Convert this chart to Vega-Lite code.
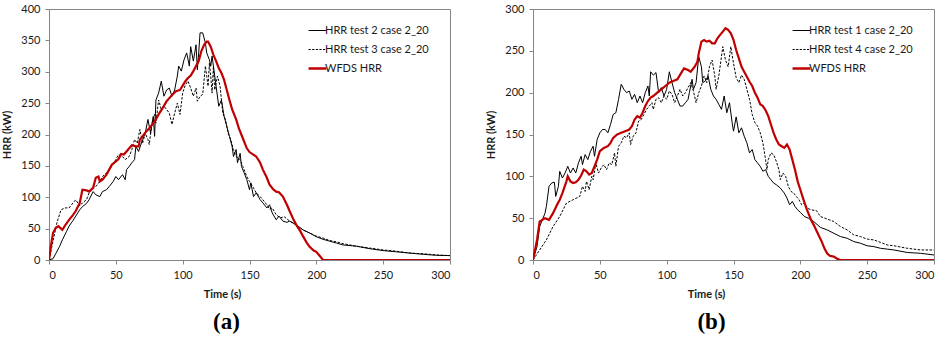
{
  "$schema": "https://vega.github.io/schema/vega-lite/v6.json",
  "background": "white",
  "padding": {"left": 1, "top": 2, "right": 0, "bottom": 0},
  "spacing": 34,
  "datasets": {
    "a_test2": [
      {"t":0,"v":0},{"t":3,"v":2},{"t":5,"v":10},{"t":8,"v":22},{"t":10,"v":32},{"t":13,"v":45},{"t":15,"v":54},{"t":18,"v":63},{"t":20,"v":70},{"t":23,"v":80},{"t":25,"v":85},{"t":28,"v":90},{"t":30,"v":96},{"t":33,"v":109},{"t":35,"v":104},{"t":38,"v":101},{"t":40,"v":109},{"t":43,"v":112},{"t":45,"v":117},{"t":48,"v":125},{"t":50,"v":133},{"t":52,"v":128},{"t":55,"v":136},{"t":57,"v":128},{"t":58,"v":144},{"t":60,"v":149},{"t":62,"v":155},{"t":64,"v":160},{"t":65,"v":181},{"t":67,"v":173},{"t":70,"v":192},{"t":72,"v":202},{"t":74,"v":224},{"t":76,"v":202},{"t":78,"v":229},{"t":79,"v":197},{"t":80,"v":255},{"t":82,"v":266},{"t":84,"v":285},{"t":86,"v":261},{"t":88,"v":271},{"t":90,"v":274},{"t":92,"v":261},{"t":94,"v":271},{"t":96,"v":293},{"t":97,"v":309},{"t":99,"v":301},{"t":101,"v":319},{"t":103,"v":330},{"t":105,"v":309},{"t":106,"v":340},{"t":108,"v":317},{"t":110,"v":343},{"t":111,"v":303},{"t":112,"v":330},{"t":113,"v":362},{"t":115,"v":362},{"t":117,"v":346},{"t":118,"v":330},{"t":120,"v":319},{"t":121,"v":309},{"t":122,"v":325},{"t":124,"v":293},{"t":125,"v":277},{"t":127,"v":245},{"t":129,"v":255},{"t":131,"v":229},{"t":133,"v":213},{"t":135,"v":197},{"t":137,"v":181},{"t":138,"v":165},{"t":140,"v":176},{"t":141,"v":155},{"t":143,"v":170},{"t":144,"v":149},{"t":146,"v":139},{"t":148,"v":128},{"t":150,"v":112},{"t":151,"v":123},{"t":153,"v":101},{"t":155,"v":107},{"t":158,"v":96},{"t":160,"v":91},{"t":163,"v":83},{"t":165,"v":88},{"t":167,"v":75},{"t":170,"v":64},{"t":172,"v":70},{"t":175,"v":62},{"t":178,"v":60},{"t":180,"v":62},{"t":185,"v":56},{"t":190,"v":48},{"t":195,"v":43},{"t":200,"v":37},{"t":205,"v":33},{"t":210,"v":30},{"t":215,"v":27},{"t":220,"v":24},{"t":230,"v":22},{"t":240,"v":18},{"t":250,"v":15},{"t":260,"v":13},{"t":270,"v":11},{"t":280,"v":9},{"t":290,"v":7.5},{"t":300,"v":7}
    ],
    "a_test3": [
      {"t":0,"v":0},{"t":3,"v":30},{"t":6,"v":60},{"t":9,"v":80},{"t":12,"v":83},{"t":15,"v":83},{"t":18,"v":91},{"t":20,"v":96},{"t":23,"v":86},{"t":25,"v":91},{"t":28,"v":96},{"t":30,"v":107},{"t":33,"v":115},{"t":35,"v":117},{"t":38,"v":125},{"t":40,"v":133},{"t":43,"v":139},{"t":45,"v":144},{"t":48,"v":152},{"t":50,"v":160},{"t":52,"v":168},{"t":55,"v":165},{"t":57,"v":160},{"t":60,"v":165},{"t":62,"v":176},{"t":64,"v":192},{"t":66,"v":186},{"t":68,"v":208},{"t":70,"v":186},{"t":72,"v":202},{"t":74,"v":192},{"t":75,"v":184},{"t":77,"v":218},{"t":79,"v":232},{"t":80,"v":218},{"t":82,"v":255},{"t":84,"v":240},{"t":86,"v":245},{"t":88,"v":240},{"t":90,"v":234},{"t":92,"v":216},{"t":94,"v":234},{"t":96,"v":250},{"t":98,"v":232},{"t":100,"v":266},{"t":102,"v":279},{"t":104,"v":285},{"t":106,"v":274},{"t":108,"v":261},{"t":110,"v":274},{"t":111,"v":253},{"t":113,"v":261},{"t":115,"v":264},{"t":117,"v":309},{"t":118,"v":293},{"t":119,"v":277},{"t":120,"v":314},{"t":121,"v":293},{"t":122,"v":266},{"t":123,"v":309},{"t":124,"v":271},{"t":126,"v":293},{"t":128,"v":277},{"t":130,"v":234},{"t":132,"v":224},{"t":134,"v":202},{"t":136,"v":192},{"t":138,"v":176},{"t":140,"v":165},{"t":143,"v":160},{"t":145,"v":149},{"t":148,"v":133},{"t":150,"v":125},{"t":153,"v":115},{"t":155,"v":107},{"t":158,"v":101},{"t":160,"v":96},{"t":163,"v":88},{"t":165,"v":81},{"t":167,"v":83},{"t":170,"v":72},{"t":173,"v":67},{"t":176,"v":69},{"t":180,"v":62},{"t":185,"v":56},{"t":190,"v":48},{"t":195,"v":43},{"t":200,"v":38},{"t":205,"v":35},{"t":210,"v":31},{"t":215,"v":29},{"t":220,"v":26},{"t":230,"v":22},{"t":240,"v":19},{"t":250,"v":16},{"t":260,"v":14},{"t":270,"v":11},{"t":280,"v":10},{"t":290,"v":8},{"t":300,"v":7}
    ],
    "a_wfds": [
      {"t":0,"v":0},{"t":2,"v":30},{"t":3,"v":43},{"t":5,"v":51},{"t":7,"v":54},{"t":10,"v":48},{"t":12,"v":55},{"t":15,"v":64},{"t":18,"v":72},{"t":20,"v":78},{"t":23,"v":91},{"t":25,"v":112},{"t":28,"v":111},{"t":30,"v":109},{"t":33,"v":115},{"t":35,"v":131},{"t":37,"v":133},{"t":38,"v":125},{"t":40,"v":128},{"t":43,"v":136},{"t":45,"v":144},{"t":47,"v":152},{"t":50,"v":157},{"t":52,"v":161},{"t":54,"v":169},{"t":56,"v":168},{"t":58,"v":173},{"t":60,"v":178},{"t":62,"v":183},{"t":65,"v":181},{"t":67,"v":181},{"t":68,"v":192},{"t":70,"v":197},{"t":72,"v":203},{"t":75,"v":210},{"t":78,"v":218},{"t":80,"v":224},{"t":82,"v":232},{"t":85,"v":242},{"t":88,"v":253},{"t":90,"v":258},{"t":93,"v":265},{"t":95,"v":269},{"t":98,"v":271},{"t":100,"v":278},{"t":102,"v":285},{"t":104,"v":290},{"t":106,"v":294},{"t":108,"v":301},{"t":110,"v":309},{"t":112,"v":317},{"t":114,"v":333},{"t":116,"v":343},{"t":118,"v":348},{"t":119,"v":348},{"t":121,"v":340},{"t":123,"v":327},{"t":125,"v":317},{"t":127,"v":306},{"t":129,"v":298},{"t":131,"v":287},{"t":133,"v":271},{"t":135,"v":255},{"t":137,"v":240},{"t":140,"v":224},{"t":142,"v":210},{"t":145,"v":194},{"t":148,"v":178},{"t":150,"v":172},{"t":152,"v":169},{"t":155,"v":165},{"t":158,"v":155},{"t":160,"v":144},{"t":163,"v":131},{"t":165,"v":120},{"t":168,"v":112},{"t":170,"v":109},{"t":172,"v":108},{"t":175,"v":101},{"t":178,"v":88},{"t":180,"v":78},{"t":183,"v":64},{"t":185,"v":56},{"t":188,"v":46},{"t":190,"v":38},{"t":193,"v":27},{"t":195,"v":21},{"t":198,"v":15},{"t":200,"v":13},{"t":202,"v":8},{"t":205,"v":0},{"t":300,"v":0}
    ],
    "b_test1": [
      {"t":0,"v":0},{"t":3,"v":16},{"t":5,"v":40},{"t":7,"v":48},{"t":9,"v":56},{"t":10,"v":64},{"t":12,"v":88},{"t":14,"v":92},{"t":16,"v":93},{"t":17,"v":76},{"t":19,"v":88},{"t":20,"v":106},{"t":22,"v":98},{"t":24,"v":104},{"t":26,"v":112},{"t":28,"v":104},{"t":30,"v":110},{"t":32,"v":104},{"t":34,"v":116},{"t":36,"v":124},{"t":37,"v":114},{"t":39,"v":126},{"t":41,"v":120},{"t":43,"v":130},{"t":45,"v":136},{"t":46,"v":124},{"t":48,"v":144},{"t":50,"v":152},{"t":52,"v":156},{"t":54,"v":156},{"t":56,"v":152},{"t":58,"v":162},{"t":60,"v":174},{"t":62,"v":176},{"t":64,"v":192},{"t":66,"v":210},{"t":68,"v":204},{"t":70,"v":200},{"t":72,"v":202},{"t":74,"v":192},{"t":76,"v":198},{"t":78,"v":188},{"t":80,"v":196},{"t":82,"v":188},{"t":84,"v":200},{"t":86,"v":208},{"t":87,"v":196},{"t":88,"v":225},{"t":90,"v":221},{"t":92,"v":224},{"t":94,"v":200},{"t":96,"v":206},{"t":98,"v":196},{"t":100,"v":204},{"t":102,"v":225},{"t":104,"v":212},{"t":106,"v":200},{"t":108,"v":192},{"t":110,"v":184},{"t":112,"v":184},{"t":114,"v":188},{"t":116,"v":192},{"t":117,"v":200},{"t":119,"v":216},{"t":120,"v":204},{"t":122,"v":212},{"t":124,"v":243},{"t":126,"v":231},{"t":127,"v":212},{"t":129,"v":214},{"t":131,"v":220},{"t":133,"v":204},{"t":135,"v":196},{"t":137,"v":192},{"t":139,"v":186},{"t":141,"v":180},{"t":143,"v":196},{"t":145,"v":176},{"t":147,"v":188},{"t":149,"v":164},{"t":150,"v":154},{"t":152,"v":171},{"t":154,"v":152},{"t":156,"v":158},{"t":158,"v":148},{"t":160,"v":140},{"t":162,"v":128},{"t":164,"v":132},{"t":166,"v":120},{"t":168,"v":116},{"t":170,"v":112},{"t":172,"v":106},{"t":174,"v":108},{"t":176,"v":100},{"t":178,"v":96},{"t":180,"v":92},{"t":182,"v":90},{"t":185,"v":86},{"t":188,"v":80},{"t":190,"v":74},{"t":192,"v":66},{"t":194,"v":70},{"t":196,"v":64},{"t":198,"v":60},{"t":200,"v":57},{"t":203,"v":52},{"t":206,"v":50},{"t":210,"v":46},{"t":215,"v":39},{"t":220,"v":36},{"t":225,"v":32},{"t":230,"v":28},{"t":235,"v":26},{"t":240,"v":22},{"t":245,"v":20},{"t":250,"v":17},{"t":255,"v":16},{"t":260,"v":14},{"t":265,"v":13},{"t":270,"v":12},{"t":280,"v":9},{"t":290,"v":8},{"t":300,"v":6}
    ],
    "b_test4": [
      {"t":0,"v":0},{"t":5,"v":12},{"t":10,"v":24},{"t":15,"v":40},{"t":20,"v":52},{"t":25,"v":68},{"t":30,"v":72},{"t":35,"v":76},{"t":37,"v":88},{"t":39,"v":82},{"t":40,"v":94},{"t":42,"v":84},{"t":44,"v":100},{"t":45,"v":96},{"t":47,"v":116},{"t":49,"v":104},{"t":51,"v":110},{"t":53,"v":114},{"t":55,"v":108},{"t":57,"v":116},{"t":59,"v":114},{"t":61,"v":128},{"t":62,"v":112},{"t":64,"v":136},{"t":66,"v":140},{"t":68,"v":148},{"t":70,"v":146},{"t":72,"v":152},{"t":73,"v":138},{"t":75,"v":148},{"t":77,"v":152},{"t":79,"v":166},{"t":81,"v":168},{"t":83,"v":174},{"t":85,"v":180},{"t":87,"v":184},{"t":89,"v":188},{"t":90,"v":180},{"t":92,"v":192},{"t":94,"v":194},{"t":96,"v":188},{"t":98,"v":196},{"t":100,"v":192},{"t":102,"v":202},{"t":104,"v":198},{"t":106,"v":188},{"t":108,"v":196},{"t":110,"v":204},{"t":112,"v":196},{"t":114,"v":200},{"t":116,"v":206},{"t":118,"v":212},{"t":120,"v":202},{"t":122,"v":188},{"t":124,"v":200},{"t":126,"v":208},{"t":128,"v":220},{"t":130,"v":212},{"t":132,"v":231},{"t":134,"v":239},{"t":136,"v":220},{"t":137,"v":204},{"t":139,"v":220},{"t":141,"v":243},{"t":142,"v":255},{"t":144,"v":239},{"t":146,"v":231},{"t":148,"v":255},{"t":150,"v":235},{"t":152,"v":218},{"t":154,"v":212},{"t":156,"v":221},{"t":158,"v":216},{"t":160,"v":204},{"t":162,"v":192},{"t":164,"v":174},{"t":166,"v":164},{"t":168,"v":160},{"t":170,"v":152},{"t":172,"v":140},{"t":174,"v":120},{"t":175,"v":108},{"t":176,"v":120},{"t":178,"v":128},{"t":180,"v":126},{"t":182,"v":118},{"t":184,"v":108},{"t":185,"v":96},{"t":187,"v":104},{"t":189,"v":100},{"t":191,"v":88},{"t":193,"v":82},{"t":195,"v":80},{"t":197,"v":76},{"t":199,"v":72},{"t":201,"v":66},{"t":203,"v":68},{"t":205,"v":62},{"t":208,"v":60},{"t":212,"v":59},{"t":215,"v":52},{"t":220,"v":49},{"t":225,"v":46},{"t":230,"v":40},{"t":235,"v":36},{"t":240,"v":30},{"t":245,"v":28},{"t":250,"v":25},{"t":255,"v":24},{"t":260,"v":21},{"t":265,"v":18},{"t":270,"v":17},{"t":280,"v":14},{"t":290,"v":12},{"t":300,"v":12}
    ],
    "b_wfds": [
      {"t":0,"v":0},{"t":3,"v":24},{"t":5,"v":46},{"t":7,"v":48},{"t":9,"v":50},{"t":12,"v":48},{"t":15,"v":56},{"t":18,"v":66},{"t":20,"v":72},{"t":22,"v":80},{"t":25,"v":94},{"t":26,"v":100},{"t":28,"v":94},{"t":30,"v":92},{"t":32,"v":93},{"t":34,"v":96},{"t":36,"v":101},{"t":38,"v":108},{"t":40,"v":106},{"t":42,"v":102},{"t":44,"v":104},{"t":46,"v":112},{"t":48,"v":120},{"t":50,"v":130},{"t":53,"v":134},{"t":56,"v":136},{"t":58,"v":140},{"t":60,"v":146},{"t":63,"v":150},{"t":66,"v":152},{"t":69,"v":154},{"t":72,"v":156},{"t":74,"v":160},{"t":76,"v":168},{"t":78,"v":172},{"t":80,"v":170},{"t":82,"v":176},{"t":84,"v":184},{"t":86,"v":190},{"t":88,"v":194},{"t":90,"v":196},{"t":93,"v":200},{"t":96,"v":204},{"t":99,"v":208},{"t":102,"v":212},{"t":105,"v":214},{"t":108,"v":216},{"t":111,"v":224},{"t":113,"v":229},{"t":116,"v":227},{"t":118,"v":225},{"t":121,"v":231},{"t":123,"v":237},{"t":124,"v":247},{"t":126,"v":261},{"t":128,"v":263},{"t":130,"v":261},{"t":132,"v":262},{"t":134,"v":259},{"t":136,"v":259},{"t":138,"v":265},{"t":140,"v":269},{"t":142,"v":273},{"t":144,"v":277},{"t":146,"v":275},{"t":148,"v":271},{"t":150,"v":263},{"t":152,"v":251},{"t":154,"v":241},{"t":156,"v":231},{"t":158,"v":225},{"t":160,"v":219},{"t":162,"v":213},{"t":164,"v":208},{"t":166,"v":200},{"t":168,"v":194},{"t":170,"v":186},{"t":172,"v":184},{"t":174,"v":179},{"t":176,"v":172},{"t":178,"v":162},{"t":180,"v":152},{"t":182,"v":144},{"t":184,"v":138},{"t":186,"v":136},{"t":188,"v":134},{"t":190,"v":138},{"t":192,"v":132},{"t":194,"v":120},{"t":196,"v":108},{"t":198,"v":94},{"t":200,"v":84},{"t":202,"v":74},{"t":205,"v":60},{"t":208,"v":48},{"t":210,"v":42},{"t":213,"v":32},{"t":216,"v":22},{"t":218,"v":14},{"t":220,"v":8},{"t":222,"v":5},{"t":225,"v":4},{"t":228,"v":1},{"t":230,"v":0},{"t":300,"v":0}
    ]
  },
  "hconcat": [
    {
      "width": 401,
      "height": 251,
      "title": {"text": "(a)", "orient": "bottom", "anchor": "middle", "dx": -23, "offset": 12},
      "encoding": {
        "x": {"field": "t", "type": "quantitative", "title": "Time (s)",
              "scale": {"domain": [0, 300], "nice": false},
              "axis": {"values": [0, 50, 100, 150, 200, 250, 300], "titleX": 173}},
        "y": {"field": "v", "type": "quantitative", "title": "HRR (kW)",
              "scale": {"domain": [0, 400], "nice": false},
              "axis": {"values": [0, 50, 100, 150, 200, 250, 300, 350, 400]}}
      },
      "layer": [
        {
          "data": {"name": "a_test2"},
          "mark": {"type": "line", "strokeWidth": 1, "clip": true},
          "encoding": {"color": {"datum": "HRR test 2 case 2_20", "type": "nominal",
            "scale": {"domain": ["HRR test 2 case 2_20", "HRR test 3 case 2_20", "WFDS HRR"], "range": ["#000000", "#000000", "#c00000"]},
            "legend": {"orient": "none", "legendX": 263, "legendY": 16, "title": null,
              "encode": {"symbols": {"update": {
                "strokeDash": {"signal": "datum.value == 'HRR test 3 case 2_20' ? [2.2, 1.4] : [1, 0]"},
                "strokeWidth": {"signal": "datum.value == 'WFDS HRR' ? 2.5 : 1.2"}}}}}}}
        },
        {
          "data": {"name": "a_test3"},
          "mark": {"type": "line", "strokeWidth": 1, "strokeDash": [2.5, 1.5], "clip": true},
          "encoding": {"color": {"datum": "HRR test 3 case 2_20", "type": "nominal"}}
        },
        {
          "data": {"name": "a_wfds"},
          "mark": {"type": "line", "strokeWidth": 2.2, "clip": true},
          "encoding": {"color": {"datum": "WFDS HRR", "type": "nominal"}}
        }
      ]
    },
    {
      "width": 401,
      "height": 251,
      "title": {"text": "(b)", "orient": "bottom", "anchor": "middle", "dx": -22, "offset": 12},
      "encoding": {
        "x": {"field": "t", "type": "quantitative", "title": "Time (s)",
              "scale": {"domain": [0, 300], "nice": false},
              "axis": {"values": [0, 50, 100, 150, 200, 250, 300], "titleX": 173}},
        "y": {"field": "v", "type": "quantitative", "title": "HRR (kW)",
              "scale": {"domain": [0, 300], "nice": false},
              "axis": {"values": [0, 50, 100, 150, 200, 250, 300]}}
      },
      "layer": [
        {
          "data": {"name": "b_test1"},
          "mark": {"type": "line", "strokeWidth": 1, "clip": true},
          "encoding": {"color": {"datum": "HRR test 1 case 2_20", "type": "nominal",
            "scale": {"domain": ["HRR test 1 case 2_20", "HRR test 4 case 2_20", "WFDS HRR"], "range": ["#000000", "#000000", "#c00000"]},
            "legend": {"orient": "none", "legendX": 263, "legendY": 16, "title": null,
              "encode": {"symbols": {"update": {
                "strokeDash": {"signal": "datum.value == 'HRR test 4 case 2_20' ? [2.2, 1.4] : [1, 0]"},
                "strokeWidth": {"signal": "datum.value == 'WFDS HRR' ? 2.5 : 1.2"}}}}}}}
        },
        {
          "data": {"name": "b_test4"},
          "mark": {"type": "line", "strokeWidth": 1, "strokeDash": [2.5, 1.5], "clip": true},
          "encoding": {"color": {"datum": "HRR test 4 case 2_20", "type": "nominal"}}
        },
        {
          "data": {"name": "b_wfds"},
          "mark": {"type": "line", "strokeWidth": 2.2, "clip": true},
          "encoding": {"color": {"datum": "WFDS HRR", "type": "nominal"}}
        }
      ]
    }
  ],
  "resolve": {"scale": {"color": "independent", "x": "independent", "y": "independent"}, "legend": {"color": "independent"}},
  "config": {
    "font": "Lato",
    "view": {"stroke": "#868686", "strokeWidth": 1},
    "axis": {
      "grid": false,
      "domainColor": "#868686",
      "tickColor": "#868686",
      "tickSize": 4,
      "labelFont": "Lato",
      "labelFontSize": 11,
      "labelColor": "#1a1a1a",
      "labelPadding": 5,
      "titleFont": "Lato",
      "titleFontSize": 11,
      "titleFontWeight": "bold",
      "titleColor": "#1a1a1a"
    },
    "axisX": {"titlePadding": 8},
    "axisY": {"titlePadding": 8},
    "legend": {
      "symbolType": "stroke",
      "symbolSize": 320,
      "labelFont": "Lato",
      "labelFontSize": 11,
      "labelColor": "#1a1a1a",
      "rowPadding": 7,
      "labelOffset": 2
    },
    "title": {"font": "Liberation Serif", "fontSize": 23, "fontWeight": "bold", "color": "#000000"}
  }
}
